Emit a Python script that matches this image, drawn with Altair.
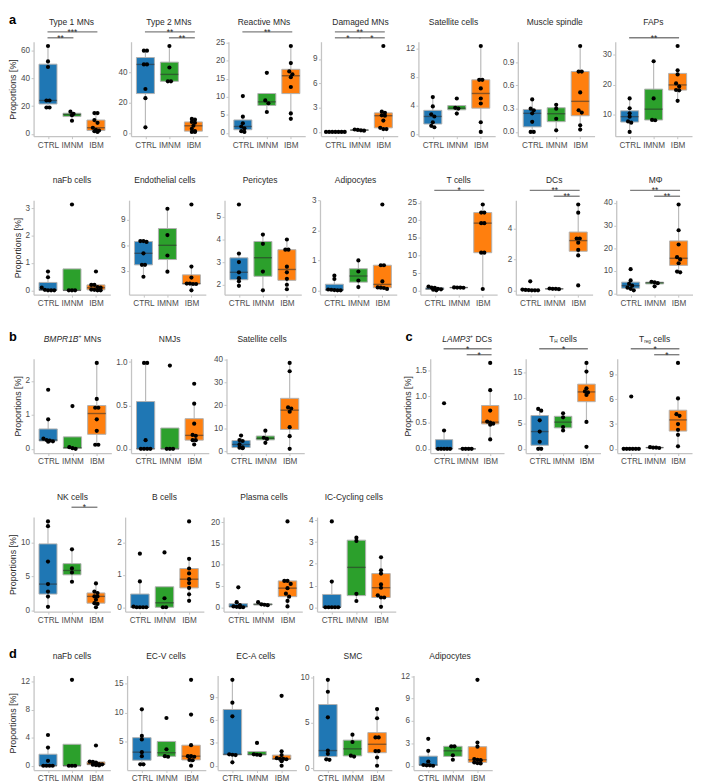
import altair as alt
import numpy as np
import pandas as pd

GROUPS = ["CTRL", "IMNM", "IBM"]
COLORS = ["#1f77b4", "#2ca02c", "#ff7f0e"]

# ---------------- data: (CTRL, IMNM, IBM) proportions [%] ----------------
# a, row 1
TYPE1_MNS = ([63, 52, 48, 24, 24, 19, 19], [16, 14.5, 13.5, 9.5], [15, 15, 10, 8, 4.5, 3, 2.5, 2, 1.5])
TYPE2_MNS = ([54, 54, 45, 45, 29, 23, 4], [57, 43, 34, 34], [9.5, 9, 7.5, 7, 5, 3, 1.5, 1, 1])
REACTIVE_MNS = ([10.2, 4.5, 2.7, 1.8, 1.3, 0.5, 0.3], [16.6, 9.0, 8.2, 5.8], [24, 19.3, 17, 16.2, 15.4, 12.7, 5.4, 3.9])
DAMAGED_MNS = ([0, 0, 0, 0, 0, 0, 0], [0.15, 0.2, 0.25, 0.3], [10.6, 2.5, 2.35, 2.05, 2.0, 1.4, 0.5, 0.35, 0.35])
SATELLITE_A = ([5.2, 3.9, 2.8, 2.5, 1.7, 1.2, 1.0], [5.0, 3.7, 3.6, 2.9], [12.3, 7.6, 7.6, 6.4, 5.0, 4.3, 1.7, 0.35])
MUSCLE_SPINDLE = ([0.42, 0.30, 0.28, 0.24, 0.13, 0, 0], [0.35, 0.30, 0.17, 0.02], [1.11, 0.78, 0.78, 0.51, 0.28, 0.25, 0.085, 0.03])
FAPS = ([15.5, 12.2, 10.5, 9.4, 7.8, 7.4, 4.3], [27.9, 15.5, 8.3, 8.2], [33, 24.9, 23.5, 20.5, 19.5, 18.3, 18.2, 14.7])
# a, row 2
NAFB_A = ([0.69, 0.48, 0.1, 0.02, 0, 0, 0], [3.14, 0, 0, 0], [0.69, 0.2, 0.2, 0.12, 0.1, 0.03, 0.02, 0, 0])
ENDOTHELIAL = ([6.5, 6.5, 6.4, 5.06, 3.7, 3.7, 2.3], [10.3, 7.2, 4.8, 2.9], [10.8, 3.5, 2.2, 1.5, 1.5, 1.45, 1.45, 0.7])
PERICYTES = ([5.55, 3.38, 3.0, 2.55, 2.29, 2.15, 1.95], [4.22, 3.81, 2.58, 1.75], [4.0, 3.55, 3.55, 2.8, 2.55, 2.26, 2.0, 1.8])
ADIPOCYTES_A = ([0.49, 0.38, 0.03, 0.02, 0.01, 0, 0], [1.0, 0.63, 0.33, 0.11], [2.87, 0.84, 0.84, 0.3, 0.1, 0.09, 0.08, 0.05])
T_CELLS = ([1.2, 0.9, 0.8, 0.55, 0.4, 0.3, 0.1], [0.95, 0.9, 0.9, 0.85], [24.5, 22.2, 22.2, 19.2, 19.2, 10.8, 10.8, 0.5])
DCS = ([0.59, 0.05, 0.03, 0.02, 0, 0, 0], [0.12, 0.1, 0.1, 0.08], [5.58, 5.05, 3.37, 3.37, 3.1, 2.63, 2.27, 0.32])
MPHI = ([10.7, 5.7, 4.2, 3.4, 2.5, 2.0, 1.3], [5.1, 4.9, 4.5, 3.1], [39.3, 27.9, 21.6, 16, 15, 13.3, 9.6, 9.3])
# b, row 1
BMPR1B_MNS = ([1.74, 0.87, 0.3, 0.26, 0.24, 0.22, 0.21], [1.26, 0.05, 0.02, 0], [2.53, 1.47, 1.21, 1.21, 0.87, 0.53, 0.12, 0.12])
NMJS = ([0.99, 0.99, 0.1, 0, 0, 0, 0], [0.96, 0, 0, 0], [0.75, 0.52, 0.29, 0.16, 0.15, 0.1, 0.1, 0.05])
SATELLITE_B = ([6.9, 4.9, 4.5, 3.0, 1.7, 1.6, 1.4], [9.0, 5.9, 5.4, 3.7], [38.4, 34.8, 19.1, 18.6, 17.2, 10.5, 6.6, 1.1])
# c
LAMP3_DCS = ([0.87, 0.35, 0, 0, 0, 0, 0], [0, 0, 0, 0], [1.64, 1.12, 0.73, 0.52, 0.5, 0.48, 0.46, 0.18])
TH_CELLS = ([7.86, 7.5, 5.6, 3.4, 1.4, 0, 0], [7.0, 6.2, 4.3, 3.6], [16.9, 15.2, 11.9, 11.3, 11.1, 10.6, 5.3, 0.4])
TREG_CELLS = ([6.34, 0, 0, 0, 0, 0, 0], [0.2, 0.15, 0.15, 0.1], [10.4, 6.1, 4.2, 4.0, 3.0, 2.3, 1.7, 0.3])
# b, row 2
NK_CELLS = ([13.1, 12.4, 7.2, 3.9, 2.8, 2.07, 0.56], [9.0, 6.2, 5.6, 4.25], [4.0, 2.8, 2.6, 2.1, 2.1, 1.6, 1.1, 1.0, 0.5])
B_CELLS = ([1.66, 0.8, 0.02, 0, 0, 0, 0], [1.7, 0.28, 0, 0], [2.66, 1.5, 1.2, 1.05, 0.87, 0.75, 0.6, 0.4, 0.2])
PLASMA_CELLS = ([4.7, 1.2, 0.5, 0.2, 0.1, 0, 0], [1.2, 0.7, 0.6, 0.5], [20.2, 6.2, 6.2, 5.5, 4.5, 3.2, 2.5, 1.5, 0.2])
IC_CYCLING = ([3.95, 1.18, 0, 0, 0, 0, 0], [3.2, 3.05, 0.62, 0.29], [2.3, 1.7, 1.55, 1.05, 0.9, 0.55, 0.45, 0.45, 0.02])
# d
NAFB_D = ([4.4, 2.6, 0.7, 0, 0, 0, 0], [12.3, 0, 0, 0], [2.9, 0.6, 0.55, 0.45, 0.25, 0.2, 0.15, 0.1, 0.05])
EC_V = ([10.6, 6.0, 5.4, 3.2, 2.5, 1.1, 1.1], [9.1, 3.7, 2.5, 2.4], [15.7, 9.7, 4.4, 2.5, 2.5, 2.4, 1.85, 1.8, 0.85])
EC_A = ([11.3, 8.3, 6.5, 1.5, 1.45, 1.4, 0.45], [3.0, 1.5, 1.45, 1.4], [9.2, 1.9, 1.4, 1.0, 0.9, 0.9, 0.85, 0.6, 0])
SMC = ([9.7, 8.4, 5.6, 1.96, 1.6, 1.0, 0.95], [3.7, 2.9, 1.4, 1.3], [6.5, 5.5, 3.4, 3.4, 1.9, 1.9, 1.2, 0.3])
ADIPOCYTES_D = ([3.6, 2.0, 0.57, 0.1, 0.05, 0.05, 0], [2.6, 2.6, 1.4, 0.8], [11.5, 3.1, 2.55, 0.9, 0.8, 0.75, 0.45, 0.35, 0.3])

# significance brackets: (from, to, stars, level 0 = upper / 1 = lower)
SIG_TYPE1 = [("CTRL", "IBM", "***", 0), ("CTRL", "IMNM", "**", 1)]
SIG_TYPE2 = [("CTRL", "IBM", "**", 0), ("IMNM", "IBM", "**", 1)]
SIG_REACTIVE = [("CTRL", "IBM", "**", 0)]
SIG_DAMAGED = [("CTRL", "IBM", "**", 0), ("CTRL", "IMNM", "*", 1), ("IMNM", "IBM", "*", 1)]
SIG_FAPS = [("CTRL", "IBM", "**", 1)]
SIG_TCELLS = [("CTRL", "IBM", "*", 0)]
SIG_DCS = [("CTRL", "IBM", "**", 0), ("IMNM", "IBM", "**", 1)]
SIG_MPHI = [("CTRL", "IBM", "**", 0), ("IMNM", "IBM", "**", 1)]
SIG_LAMP3 = [("CTRL", "IBM", "*", 0), ("IMNM", "IBM", "*", 1)]
SIG_TH = [("CTRL", "IBM", "*", 0)]
SIG_TREG = [("CTRL", "IBM", "*", 0), ("IMNM", "IBM", "*", 1)]
SIG_NK = [("IMNM", "IBM", "*", 0)]

# ---------------- style ----------------
FONT = "Liberation Sans"
TXT = "#2a2a2a"
AXC = "#4d4d4d"
LINE = "#c4c4c4"
BOXLINE = "#b0b0b0"
WHISK = "#bababa"
SIGC = "#7f7f7f"
TITLE_SIZE = 8.6
SIG_Y = [-10, -4]
TITLE_Y = -20
LABEL_Y = -22
H = 96

CW = {'A': .667, 'B': .667, 'C': .722, 'D': .722, 'E': .667, 'F': .611, 'H': .722, 'I': .278,
      'L': .556, 'M': .833, 'N': .722, 'P': .667, 'R': .722, 'T': .611, 'a': .556, 'c': .5,
      'e': .556, 'g': .556, 'l': .222, 'r': .333, 's': .5, ' ': .278, '+': .584}


def text_w(s, size):
    return sum(CW.get(c, 0.556) for c in s) * size


def swarm(vals, rng, step=0.13):
    v = sorted(vals, reverse=True)
    thr = 0.035 * rng
    out = []
    i = 0
    while i < len(v):
        j = i
        while j + 1 < len(v) and v[i] - v[j + 1] < thr:
            j += 1
        k = j - i + 1
        for m in range(k):
            out.append((v[i + m], (m - (k - 1) / 2) * step))
        i = j + 1
    return out


def panel(vals, title, ticks, fmt="d", sig=(), ytitle=None, label=None, first=False, width=78, height=H):
    allv = [x for g in vals for x in g]
    lo, hi = min(allv), max(allv)
    r = hi - lo
    dom = [lo - 0.05 * r, hi + 0.05 * r]
    xs = alt.Scale(domain=[0.4, 3.6], nice=False, zero=False)
    ys = alt.Scale(domain=dom, nice=False, zero=False)
    xaxis = alt.Axis(values=[1, 2, 3], title=None, labelOverlap=False, labelFlush=False,
                     labelExpr="datum.value === 1 ? 'CTRL' : (datum.value === 2 ? 'IMNM' : 'IBM')")
    yaxis = alt.Axis(values=ticks, format=fmt, title=ytitle, labelOverlap=False, labelFlush=False)

    def X(f):
        return alt.X(f, type="quantitative", scale=xs, axis=xaxis)

    def Y(f):
        return alt.Y(f, type="quantitative", scale=ys, axis=yaxis)

    prow, srow = [], []
    for gi, g in enumerate(GROUPS):
        a = np.array(vals[gi], dtype=float)
        for val, off in swarm(vals[gi], r):
            prow.append({"group": g, "x": gi + 1 + off, "y": val})
        q1, med, q3 = np.percentile(a, [25, 50, 75])
        iqr = q3 - q1
        srow.append({"group": g, "gx": gi + 1, "xl": gi + 1 - 0.375, "xr": gi + 1 + 0.375,
                     "q1": q1, "med": med, "q3": q3,
                     "lo": a[a >= q1 - 1.5 * iqr].min(), "hi": a[a <= q3 + 1.5 * iqr].max()})
    pts = pd.DataFrame(prow)
    st = pd.DataFrame(srow)

    whisk = alt.Chart(st).mark_rule(color=WHISK, strokeWidth=1.2).encode(
        x=X("gx"), y=Y("lo"), y2="hi")
    box = alt.Chart(st).mark_bar(stroke=BOXLINE, strokeWidth=1, opacity=1).encode(
        x=X("xl"), x2="xr", y=Y("q1"), y2="q3",
        color=alt.Color("group:N", scale=alt.Scale(domain=GROUPS, range=COLORS), legend=None))
    medl = alt.Chart(st).mark_rule(color="#2b2b2b", opacity=0.55, strokeWidth=1.4).encode(
        x=X("xl"), x2="xr", y=Y("med"))
    dots = alt.Chart(pts).mark_circle(size=18, color="black", opacity=1).encode(
        x=X("x"), y=Y("y"))
    layers = [whisk, box, medl, dots]

    gi = {g: i + 1 for i, g in enumerate(GROUPS)}
    for g1, g2, lab, lvl in sig:
        sd = pd.DataFrame({"x1": [gi[g1] - 0.02], "x2": [gi[g2] + 0.06],
                           "xm": [(gi[g1] + gi[g2]) / 2 + 0.02], "lab": [lab]})
        layers.append(alt.Chart(sd).mark_rule(color=SIGC, strokeWidth=1.4).encode(
            x=X("x1"), x2="x2", y=alt.value(SIG_Y[lvl])))
        layers.append(alt.Chart(sd).mark_text(font=FONT, fontSize=8.5, color=TXT, baseline="alphabetic").encode(
            x=X("xm"), y=alt.value(SIG_Y[lvl] + 3), text="lab:N"))

    parts = title if isinstance(title, list) else [(title, 1.0, False, 0)]
    total = sum(text_w(t, TITLE_SIZE * sf) for t, sf, it, dy in parts)
    xpos = width / 2 - total / 2
    for t, sf, it, dy in parts:
        lead = len(t) - len(t.lstrip(" "))
        xdraw = xpos + text_w(" " * lead, TITLE_SIZE * sf)
        td = pd.DataFrame({"t": [t.strip()]})
        layers.append(alt.Chart(td).mark_text(
            align="left", baseline="middle", font=FONT, fontSize=TITLE_SIZE * sf,
            fontStyle="italic" if it else "normal", color=TXT, dy=dy).encode(
            text="t:N", x=alt.value(xdraw), y=alt.value(TITLE_Y)))
        xpos += text_w(t, TITLE_SIZE * sf)

    # row letter; an invisible one on unlabelled rows keeps the row margins equal
    if label or first:
        ld = pd.DataFrame({"t": [label if label else "a"]})
        layers.append(alt.Chart(ld).mark_text(
            align="left", baseline="middle", font=FONT, fontSize=13, fontWeight="bold",
            color="black", opacity=1 if label else 0).encode(
            text="t:N", x=alt.value(-25), y=alt.value(LABEL_Y)))

    return alt.layer(*layers).properties(width=width, height=height)


PROP = "Proportions [%]"
BMPR_T = [("BMPR1B", 1.0, True, 0), ("+", 0.6, False, -3), (" MNs", 1.0, False, 0)]
LAMP_T = [("LAMP3", 1.0, True, 0), ("+", 0.6, False, -3), (" DCs", 1.0, False, 0)]
TH_T = [("T", 1.0, False, 0), ("H", 0.55, False, 3), (" cells", 1.0, False, 0)]
TREG_T = [("T", 1.0, False, 0), ("reg", 0.55, False, 3), (" cells", 1.0, False, 0)]


def row(panels, spacing):
    return alt.hconcat(*panels, spacing=spacing).resolve_scale(x="independent", y="independent")


A1 = row([
    panel(TYPE1_MNS, "Type 1 MNs", [0, 20, 40, 60], sig=SIG_TYPE1, ytitle=PROP, label="a"),
    panel(TYPE2_MNS, "Type 2 MNs", [0, 20, 40, 60], sig=SIG_TYPE2),
    panel(REACTIVE_MNS, "Reactive MNs", [0, 5, 10, 15, 20, 25], sig=SIG_REACTIVE),
    panel(DAMAGED_MNS, "Damaged MNs", [0, 3, 6, 9], sig=SIG_DAMAGED),
    panel(SATELLITE_A, "Satellite cells", [0, 4, 8, 12]),
    panel(MUSCLE_SPINDLE, "Muscle spindle", [0, 0.3, 0.6, 0.9], fmt=".1f"),
    panel(FAPS, "FAPs", [10, 20, 30], sig=SIG_FAPS),
], 7)

A2 = row([
    panel(NAFB_A, "naFb cells", [0, 1, 2, 3], ytitle=PROP, first=True),
    panel(ENDOTHELIAL, "Endothelial cells", [0, 3, 6, 9]),
    panel(PERICYTES, "Pericytes", [2, 3, 4, 5]),
    panel(ADIPOCYTES_A, "Adipocytes", [0, 1, 2, 3]),
    panel(T_CELLS, "T cells", [0, 5, 10, 15, 20, 25], sig=SIG_TCELLS),
    panel(DCS, "DCs", [0, 2, 4], sig=SIG_DCS),
    panel(MPHI, "M\u03a6", [0, 10, 20, 30, 40], sig=SIG_MPHI),
], 10)

B1 = row([
    panel(BMPR1B_MNS, BMPR_T, [0, 1, 2], ytitle=PROP, label="b", width=79),
    panel(NMJS, "NMJs", [0, 0.5, 1.0], fmt=".1f", width=79),
    panel(SATELLITE_B, "Satellite cells", [0, 10, 20, 30, 40], width=79),
], 4)

C1 = row([
    panel(LAMP3_DCS, LAMP_T, [0, 0.5, 1.0, 1.5], fmt=".1f", sig=SIG_LAMP3, ytitle=PROP, label="c", width=75),
    panel(TH_CELLS, TH_T, [0, 5, 10, 15], sig=SIG_TH, width=76),
    panel(TREG_CELLS, TREG_T, [0, 3, 6, 9], sig=SIG_TREG, width=76),
], 8)

BC = alt.hconcat(B1, C1, spacing=100).resolve_scale(x="independent", y="independent")

B2 = row([
    panel(NK_CELLS, "NK cells", [0, 5, 10], sig=SIG_NK, ytitle=PROP, first=True, width=78),
    panel(B_CELLS, "B cells", [0, 1, 2], width=80),
    panel(PLASMA_CELLS, "Plasma cells", [0, 5, 10, 15, 20], width=80),
    panel(IC_CYCLING, "IC-Cycling cells", [0, 1, 2, 3, 4], width=80),
], 6)

D1 = row([
    panel(NAFB_D, "naFb cells", [0, 4, 8, 12], ytitle=PROP, label="d", width=78),
    panel(EC_V, "EC-V cells", [0, 5, 10, 15], width=80),
    panel(EC_A, "EC-A cells", [0, 3, 6, 9, 12], width=80),
    panel(SMC, "SMC", [0, 5, 10], width=80),
], 3)
D = alt.hconcat(D1, panel(ADIPOCYTES_D, "Adipocytes", [0, 3, 6, 9, 12], width=80),
                spacing=8).resolve_scale(x="independent", y="independent")

chart = alt.vconcat(A1, A2, BC, B2, D, spacing=24).resolve_scale(
    x="independent", y="independent", color="shared"
).properties(
    padding={"left": 0, "top": 0, "right": 0, "bottom": 0}
).configure_view(stroke=None).configure_axis(
    domainColor=LINE, domainWidth=1.3, tickColor=LINE, tickSize=2.5, tickWidth=1,
    labelColor=AXC, labelFont=FONT, labelPadding=1.5, labelFontSize=8.3,
    titleFont=FONT, titleFontSize=9, titleFontWeight="normal", titleColor=TXT, titlePadding=3,
    grid=False
)

chart.save("out.html", embed_options={"renderer": "svg", "actions": False})
